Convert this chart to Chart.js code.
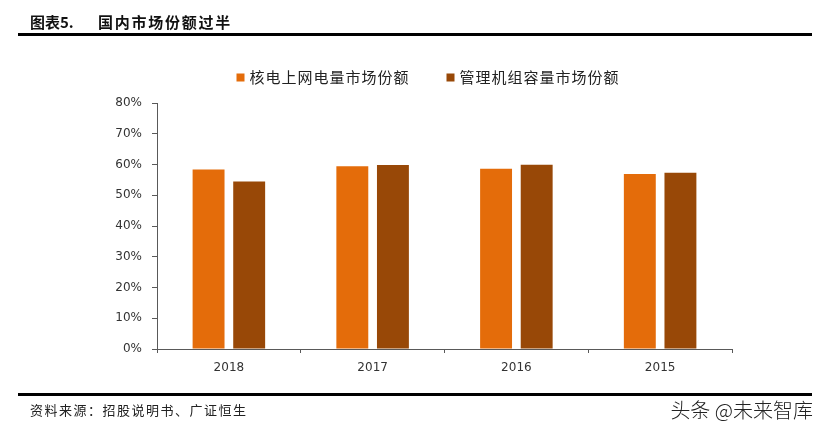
<!DOCTYPE html>
<html>
<head>
<meta charset="utf-8">
<script src="https://cdn.jsdelivr.net/npm/chart.js@4.4.1/dist/chart.umd.min.js"></script>
<style>
  html, body { margin: 0; padding: 0; background: #fff; }
  #wrap { position: relative; width: 829px; height: 433px; overflow: hidden; }
  #chart { position: absolute; left: 0; top: 0; }
  .txt { position: absolute; white-space: nowrap; font-family: "Noto Sans CJK SC", sans-serif; color: #111; }
  .rule { position: absolute; left: 18px; width: 794px; height: 3px; background: #000; }
</style>
</head>
<body>
<div id="wrap">
  <canvas id="chart" width="829" height="433"></canvas>
  <div class="txt" style="left:30px;top:11px;font-size:15px;font-weight:700;">图表5.</div>
  <div class="txt" style="left:98px;top:11px;font-size:15px;font-weight:700;letter-spacing:1.75px;">国内市场份额过半</div>
  <div class="rule" style="top:33px;"></div>
  <div class="rule" style="top:393px;"></div>
  <div class="txt" style="left:30px;top:400px;font-size:13px;letter-spacing:1.5px;color:#222;">资料来源：招股说明书、广证恒生</div>
  <div class="txt" style="right:16px;top:395px;font-size:20px;font-weight:300;color:#222;">头条 @未来智库</div>
</div>
<script>
const years = ['2018', '2017', '2016', '2015'];
const gridShare = [58.4, 59.4, 58.6, 56.9];
const unitShare = [54.5, 59.8, 59.9, 57.3];
const seriesNames = ['核电上网电量市场份额', '管理机组容量市场份额'];
const yTicks = [0, 10, 20, 30, 40, 50, 60, 70, 80];

const ORANGE = '#E46C0A';
const BROWN = '#984807';
const AXIS = '#595959';

// legend drawn on the canvas so the spacing can match the picture
const legendPlugin = {
  id: 'customLegend',
  afterDraw(chart) {
    const ctx = chart.ctx;
    const sets = chart.data.datasets;
    ctx.save();
    ctx.font = '15px "Noto Sans CJK SC", sans-serif';
    ctx.letterSpacing = '1px';
    ctx.textBaseline = 'middle';
    const box = 8, gap = 5, itemGap = 37;
    const widths = sets.map(d => box + gap + ctx.measureText(d.label).width);
    const total = widths.reduce((a, b) => a + b, 0) + itemGap * (sets.length - 1);
    let x = 428 - total / 2;
    const y = 77.5;
    sets.forEach((d, i) => {
      ctx.fillStyle = d.backgroundColor;
      ctx.fillRect(x, y - box / 2, box, box);
      ctx.fillStyle = '#222';
      ctx.fillText(d.label, x + box + gap, y);
      x += widths[i] + itemGap;
    });
    ctx.restore();
  }
};

new Chart(document.getElementById('chart'), {
  type: 'bar',
  data: {
    labels: years,
    datasets: [
      { label: seriesNames[0], data: gridShare, backgroundColor: ORANGE },
      { label: seriesNames[1], data: unitShare, backgroundColor: BROWN }
    ]
  },
  options: {
    responsive: false,
    animation: false,
    categoryPercentage: 0.565,
    barPercentage: 0.786,
    layout: { padding: { left: 20, right: 97, top: 103, bottom: 54 } },
    plugins: {
      legend: { display: false },
      tooltip: { enabled: false }
    },
    scales: {
      x: {
        afterFit(scale) { scale.height = 30; },
        border: { display: true, color: AXIS, width: 1 },
        grid: { drawOnChartArea: false, drawTicks: true, tickLength: 4, color: AXIS, offset: true },
        ticks: { color: '#333', padding: 8, font: { family: 'DejaVu Sans', size: 12 } }
      },
      y: {
        min: 0,
        max: 80,
        afterFit(scale) { scale.width = 137; },
        afterBuildTicks(scale) { scale.ticks = yTicks.map(v => ({ value: v })); },
        border: { display: true, color: AXIS, width: 1 },
        grid: { drawOnChartArea: false, drawTicks: true, tickLength: 5, color: AXIS },
        ticks: {
          color: '#333',
          padding: 10,
          font: { family: 'DejaVu Sans', size: 12 },
          callback: v => v + '%'
        }
      }
    }
  },
  plugins: [legendPlugin]
});
</script>
</body>
</html>
